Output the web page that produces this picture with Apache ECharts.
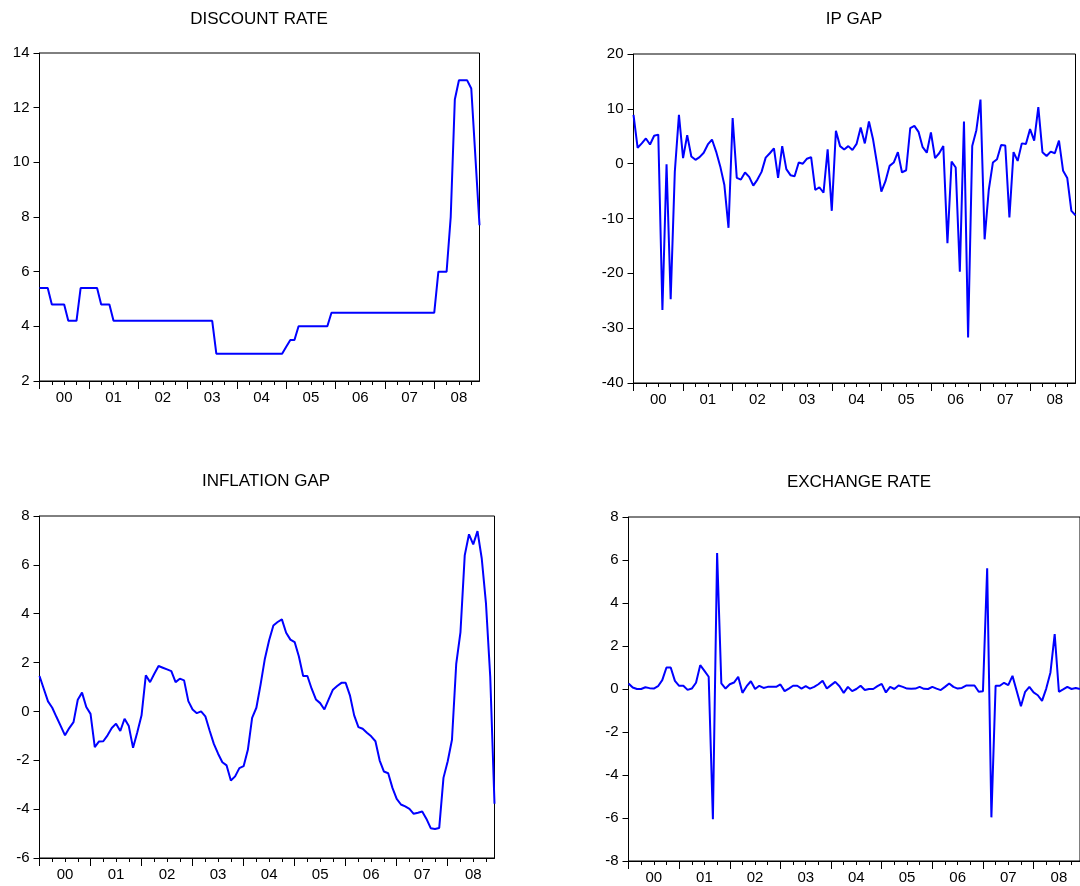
<!DOCTYPE html>
<html><head><meta charset="utf-8">
<script src="https://cdn.jsdelivr.net/npm/echarts@6/dist/echarts.min.js"></script>
<style>html,body{margin:0;padding:0;background:#fff}#c{width:1080px;height:886px}</style>
</head><body><div id="c"></div>
<script>
// Monthly categories 2000M01 .. 2008M12
const years = ['2000','2001','2002','2003','2004','2005','2006','2007','2008'];
const monthNums = ['01','02','03','04','05','06','07','08','09','10','11','12'];
const months = [];
years.forEach(y => monthNums.forEach(m => months.push(y + '-' + m)));

const titles = ['DISCOUNT RATE', 'IP GAP', 'INFLATION GAP', 'EXCHANGE RATE'];

const discountRate = [
  5.4,5.4,5.4,4.8,4.8,4.8,4.8,4.2,4.2,4.2,5.4,5.4,
  5.4,5.4,5.4,4.8,4.8,4.8,4.2,4.2,4.2,4.2,4.2,4.2,
  4.2,4.2,4.2,4.2,4.2,4.2,4.2,4.2,4.2,4.2,4.2,4.2,
  4.2,4.2,4.2,4.2,4.2,4.2,4.2,3.0,3.0,3.0,3.0,3.0,
  3.0,3.0,3.0,3.0,3.0,3.0,3.0,3.0,3.0,3.0,3.0,3.0,
  3.25,3.5,3.5,4.0,4.0,4.0,4.0,4.0,4.0,4.0,4.0,4.5,
  4.5,4.5,4.5,4.5,4.5,4.5,4.5,4.5,4.5,4.5,4.5,4.5,
  4.5,4.5,4.5,4.5,4.5,4.5,4.5,4.5,4.5,4.5,4.5,4.5,
  4.5,6.0,6.0,6.0,8.0,12.3,13.0,13.0,13.0,12.7,10.2,7.7
];

const ipGap = [
  8.9,2.9,3.7,4.6,3.5,5.1,5.3,-26.7,-0.1,-24.7,-1.5,8.9,
  1.0,5.2,1.3,0.7,1.2,2.0,3.5,4.4,2.2,-0.5,-3.9,-11.7,
  8.3,-2.6,-2.9,-1.6,-2.4,-4.0,-2.9,-1.5,1.1,1.9,2.8,-2.6,
  3.2,-1.0,-2.1,-2.3,0.2,0.0,0.9,1.2,-4.8,-4.3,-5.3,2.6,
  -8.6,6.0,3.2,2.6,3.2,2.5,3.6,6.6,3.7,7.7,4.4,-0.2,
  -5.1,-3.2,-0.4,0.2,2.1,-1.6,-1.2,6.5,6.9,5.8,3.0,2.0,
  5.7,1.0,1.9,3.2,-14.5,0.4,-0.7,-19.7,7.7,-31.7,3.2,6.1,
  11.7,-13.8,-4.8,0.2,0.8,3.4,3.3,-9.8,2.1,0.5,3.7,3.6,
  6.3,4.2,10.3,2.1,1.4,2.2,1.9,4.2,-1.3,-2.6,-8.6,-9.4
];

const inflationGap = [
  1.45,0.93,0.41,0.15,-0.23,-0.6,-0.98,-0.68,-0.44,0.48,0.77,0.18,
  -0.1,-1.46,-1.23,-1.22,-0.98,-0.68,-0.5,-0.8,-0.3,-0.6,-1.49,-0.85,
  -0.16,1.48,1.2,1.54,1.86,1.79,1.72,1.65,1.2,1.34,1.27,0.42,
  0.08,-0.07,0.0,-0.2,-0.78,-1.33,-1.73,-2.08,-2.21,-2.83,-2.66,-2.32,
  -2.24,-1.57,-0.26,0.15,1.11,2.16,2.91,3.52,3.66,3.77,3.22,2.94,
  2.84,2.25,1.45,1.45,0.93,0.49,0.34,0.08,0.49,0.89,1.04,1.17,
  1.17,0.66,-0.16,-0.64,-0.71,-0.87,-1.02,-1.22,-2.01,-2.46,-2.53,-3.13,
  -3.58,-3.81,-3.89,-3.99,-4.19,-4.15,-4.10,-4.4,-4.78,-4.81,-4.77,-2.72,
  -2.04,-1.16,1.95,3.25,6.39,7.25,6.84,7.38,6.26,4.41,1.41,-3.78
];

const exchangeRate = [
  0.26,0.07,0.0,0.0,0.08,0.04,0.02,0.13,0.41,1.0,1.0,0.38,
  0.15,0.15,-0.04,0.02,0.29,1.11,0.84,0.57,-6.06,6.32,0.26,0.02,
  0.22,0.3,0.57,-0.18,0.13,0.36,0.0,0.15,0.05,0.1,0.1,0.1,
  0.21,-0.1,0.02,0.15,0.15,0.02,0.13,0.02,0.1,0.22,0.38,0.02,
  0.18,0.33,0.13,-0.18,0.1,-0.1,0.0,0.15,-0.05,0.0,0.0,0.13,
  0.24,-0.16,0.1,0.0,0.16,0.1,0.02,0.01,0.02,0.1,0.01,0.0,
  0.1,0.02,-0.05,0.1,0.26,0.1,0.02,0.05,0.16,0.16,0.16,-0.13,
  -0.1,5.62,-5.97,0.15,0.15,0.29,0.18,0.61,-0.09,-0.8,-0.13,0.1,
  -0.16,-0.29,-0.55,0.02,0.77,2.55,-0.13,-0.02,0.1,0.0,0.05,0.0
];

const yRanges = [[2,14,2],[-40,20,10],[-6,8,2],[-8,8,2]];
const seriesData = [discountRate, ipGap, inflationGap, exchangeRate];

const FONT = '"Liberation Sans", Arial, Helvetica, sans-serif';
const boxes = [
  {l:39.5, t:53, w:440, h:328},
  {l:633.5, t:54, w:442, h:329},
  {l:39.5, t:516, w:455, h:342},
  {l:628.5, t:517, w:462, h:344}
];
const titlePos = [[259,19],[854,19],[266,481],[859,482]];

const grid = [], xAxis = [], yAxis = [], series = [], graphic = [];
boxes.forEach((b, i) => {
  grid.push({left:b.l, top:b.t, width:b.w, height:b.h, show:true, borderColor:'#000', borderWidth:1, backgroundColor:'transparent'});
  xAxis.push({
    type:'category', gridIndex:i, data:months, boundaryGap:false, position:'bottom',
    axisLine:{onZero:false, lineStyle:{color:'#000', width:1}},
    axisTick:{show:true, length:4, interval:(idx)=>idx%3===0, lineStyle:{color:'#000', width:1}},
    axisLabel:{interval:(idx)=>idx%12===6, formatter:(v)=>v.slice(2,4), margin:9, color:'#000', fontSize:15, fontFamily:FONT},
    splitLine:{show:false}
  });
  xAxis.push({
    type:'category', gridIndex:i, data:months, boundaryGap:false, position:'bottom',
    axisLine:{show:false, onZero:false},
    axisTick:{show:true, length:8, interval:(idx)=>idx%12===0, lineStyle:{color:'#000', width:1}},
    axisLabel:{show:false}, splitLine:{show:false}
  });
  const r = yRanges[i];
  yAxis.push({
    type:'value', gridIndex:i, min:r[0], max:r[1], interval:r[2],
    axisLine:{show:true, lineStyle:{color:'#000', width:1}},
    axisTick:{show:true, length:6, lineStyle:{color:'#000', width:1}},
    axisLabel:{margin:10, color:'#000', fontSize:15, fontFamily:FONT},
    splitLine:{show:false}
  });
  series.push({
    type:'line', xAxisIndex:2*i, yAxisIndex:i, data:seriesData[i],
    symbol:'none', showSymbol:false, smooth:false,
    lineStyle:{color:'#0000ff', width:2}, animation:false
  });
  graphic.push({
    type:'text', x:titlePos[i][0], y:titlePos[i][1],
    style:{text:titles[i], fill:'#000', font:'17px ' + FONT, textAlign:'center', textVerticalAlign:'middle', align:'center', verticalAlign:'middle'}
  });
});

const chart = echarts.init(document.getElementById('c'), null, {renderer:'canvas'});
chart.setOption({animation:false, backgroundColor:'#fff', grid, xAxis, yAxis, series, graphic});
</script>
</body></html>
